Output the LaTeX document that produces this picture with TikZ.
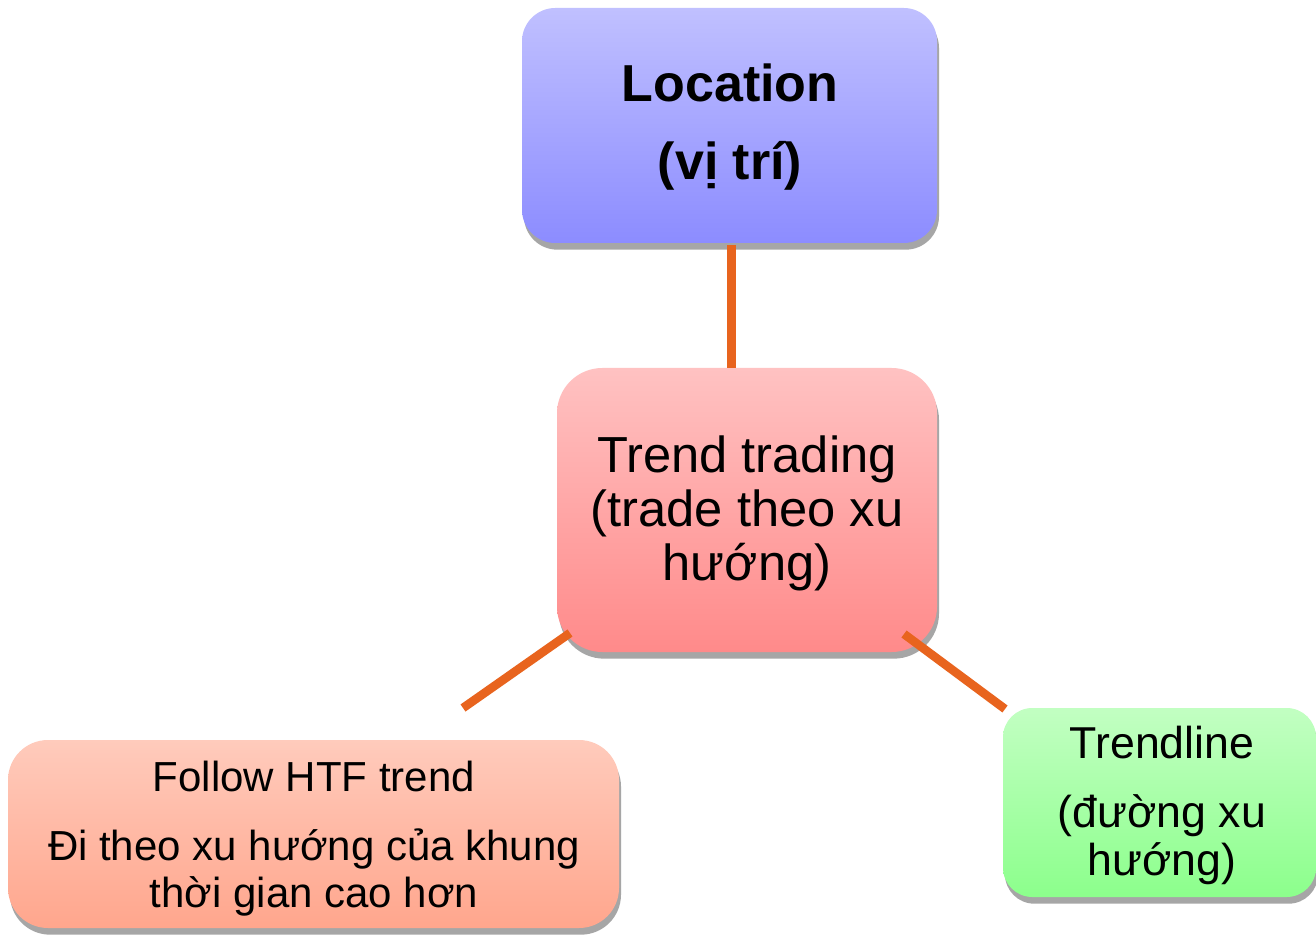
\documentclass[tikz,border=0pt]{standalone}
\usepackage{fontspec}
\setmainfont{Liberation Sans}
\usetikzlibrary{shadows}
\definecolor{locTop}{HTML}{C0C0FF}
\definecolor{locBot}{HTML}{8C8CFF}
\definecolor{trTop}{HTML}{FFC2C2}
\definecolor{trBot}{HTML}{FF8A8A}
\definecolor{fwTop}{HTML}{FFCBBC}
\definecolor{fwBot}{HTML}{FFA68D}
\definecolor{tlTop}{HTML}{C2FFC2}
\definecolor{tlBot}{HTML}{8CFF8C}
\definecolor{shadowgray}{HTML}{A6A6A6}
\definecolor{linkorange}{HTML}{E8641E}
\begin{document}
\begin{tikzpicture}[x=0.75pt,y=-0.75pt,
  box/.style={rectangle, inner sep=0pt,
    drop shadow={shadow xshift=1.5pt,shadow yshift=-5pt,fill=shadowgray,opacity=1}},
  link/.style={draw=linkorange, line width=6.5pt},
  txt/.style={anchor=base, inner sep=0pt, text=black}]
\useasboundingbox[fill=white] (0,0) rectangle (1316,937);

% boxes
\node[box, minimum width=311.25pt, minimum height=176.25pt, rounded corners=25pt,
  top color=locTop, bottom color=locBot] (loc) at (729.5,125.5) {};
\node[box, minimum width=285pt, minimum height=213pt, rounded corners=34pt,
  top color=trTop, bottom color=trBot] (trend) at (747,510) {};
\node[box, minimum width=458.25pt, minimum height=141pt, rounded corners=30pt,
  top color=fwTop, bottom color=fwBot] (follow) at (313.5,834) {};
\node[box, minimum width=234.75pt, minimum height=141.75pt, rounded corners=22pt,
  top color=tlTop, bottom color=tlBot] (tline) at (1159.5,802.5) {};

% connector end points
\coordinate (l1a) at (731.5,245);
\coordinate (l1b) at (731.5,368);
\coordinate (l2a) at (570,633);
\coordinate (l2b) at (463,708);
\coordinate (l3a) at (904,634);
\coordinate (l3b) at (1005,709);

\draw[link] (l1a) -- (l1b);
\draw[link] (l2a) -- (l2b);
\draw[link] (l3a) -- (l3b);

% texts
\begin{scope}[every node/.append style={txt}]
\node[font=\fontsize{39}{47}\selectfont\bfseries] (loc1) at (730,102) {Location};
\node[font=\fontsize{39}{47}\selectfont\bfseries] (loc2) at (730,180) {(vị trí)};

\node[font=\fontsize{38}{46}\selectfont] (tr1) at (747,472) {Trend trading};
\node[font=\fontsize{38}{46}\selectfont] (tr2) at (747,526) {(trade theo xu};
\node[font=\fontsize{38}{46}\selectfont] (tr3) at (747,580) {hướng)};

\node[font=\fontsize{31.5}{38}\selectfont] (fw1) at (314,791) {Follow HTF trend};
\node[font=\fontsize{31.5}{38}\selectfont] (fw2) at (314,860) {Đi theo xu hướng của khung};
\node[font=\fontsize{31.5}{38}\selectfont] (fw3) at (314,907) {thời gian cao hơn};

\node[font=\fontsize{33.5}{40}\selectfont] (tl1) at (1162,758) {Trendline};
\node[font=\fontsize{33.5}{40}\selectfont] (tl2) at (1162,827) {(đường xu};
\node[font=\fontsize{33.5}{40}\selectfont] (tl3) at (1162,875) {hướng)};
\end{scope}
\end{tikzpicture}
\end{document}
